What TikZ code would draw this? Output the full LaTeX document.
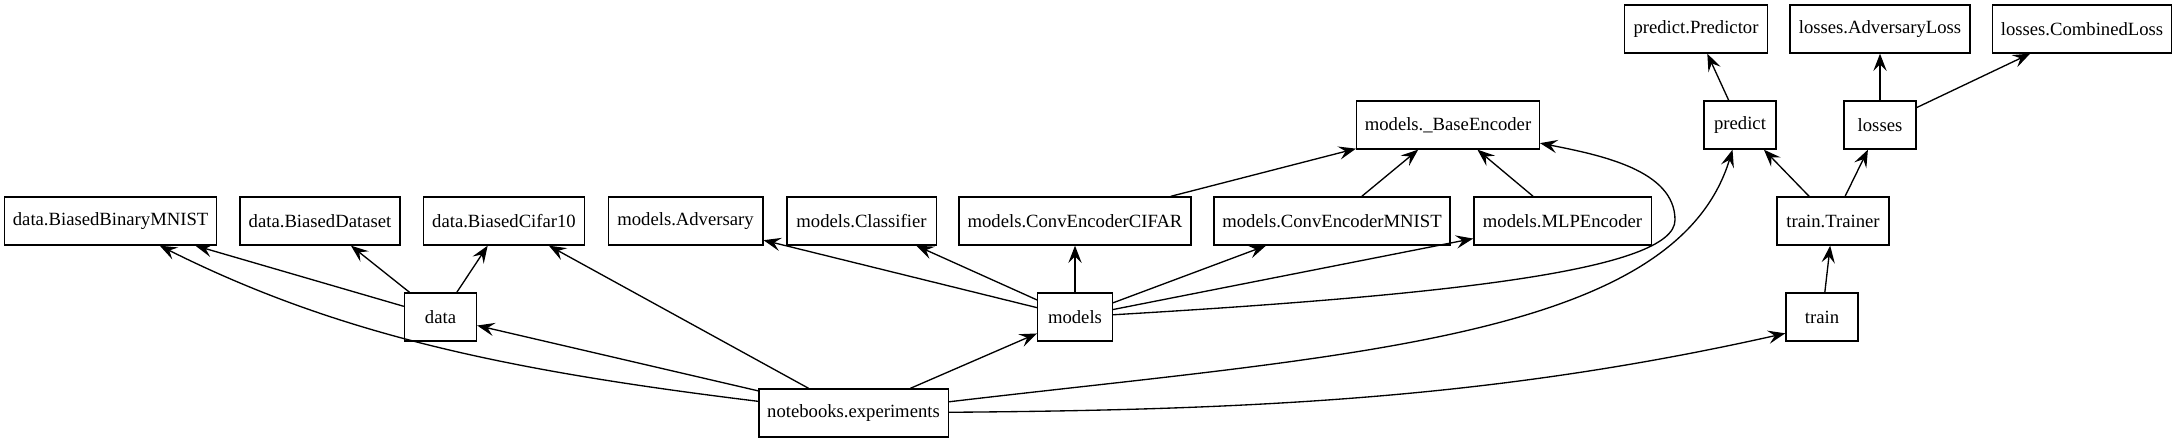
\documentclass[tikz,border=0pt]{standalone}
\usepackage{fontspec}
\setmainfont{Liberation Serif}
\usetikzlibrary{arrows.meta}
\begin{document}
\begin{tikzpicture}[x=0.75pt,y=-0.75pt,
  box/.style={draw, line width=1pt, minimum height=36pt, inner sep=0pt,
    font=\fontsize{14}{16}\selectfont},
  edge/.style={-{Stealth[length=13pt,width=10pt,inset=5pt]}, line width=1pt}]
\useasboundingbox (0,0) rectangle (2178,443);
% top row
\node[box, minimum width=107pt] (PP) at (1696,29) {predict.Predictor};
\node[box, minimum width=135pt] (AL) at (1880,29) {losses.AdversaryLoss};
\node[box, minimum width=134pt] (CL) at (2082,29) {losses.CombinedLoss};
% second row
\node[box, minimum width=137pt] (Base) at (1448,125) {models.\_BaseEncoder};
\node[box, minimum width=54pt] (predict) at (1740,125) {predict};
\node[box, minimum width=54pt] (losses) at (1880,125) {losses};
% third row
\node[box, minimum width=159pt] (BBM) at (110.6,221) {data.BiasedBinaryMNIST};
\node[box, minimum width=120pt] (BD) at (320,221) {data.BiasedDataset};
\node[box, minimum width=121pt] (BC) at (504,221) {data.BiasedCifar10};
\node[box, minimum width=116pt] (Adv) at (685.5,221) {models.Adversary};
\node[box, minimum width=112pt] (Cls) at (861.5,221) {models.Classifier};
\node[box, minimum width=174pt] (CIFAR) at (1075,221) {models.ConvEncoderCIFAR};
\node[box, minimum width=177pt] (MNIST) at (1332,221) {models.ConvEncoderMNIST};
\node[box, minimum width=133pt] (MLP) at (1562.5,221) {models.MLPEncoder};
\node[box, minimum width=84pt] (Trainer) at (1833,221) {train.Trainer};
% fourth row
\node[box, minimum width=54pt] (data) at (440.5,317) {data};
\node[box, minimum width=56pt] (models) at (1075,317) {models};
\node[box, minimum width=54pt] (train) at (1822,317) {train};
% bottom
\node[box, minimum width=142pt] (nb) at (853.5,413) {notebooks.experiments};
\coordinate (bend) at (1675,220);

% straight edges
\draw[edge] (data) -- (BBM);
\draw[edge] (data) -- (BD);
\draw[edge] (data) -- (BC);
\draw[edge] (nb) -- (data);
\draw[edge] (nb) -- (BC);
\draw[edge] (nb) -- (models);
\draw[edge] (models) -- (Adv);
\draw[edge] (models) -- (Cls);
\draw[edge] (models) -- (CIFAR);
\draw[edge] (models) -- (MNIST);
\draw[edge] (models) -- (MLP);
\draw[edge] (CIFAR) -- (Base);
\draw[edge] (MNIST) -- (Base);
\draw[edge] (MLP) -- (Base);
\draw[edge] (predict) -- (PP);
\draw[edge] (losses) -- (AL);
\draw[edge] (losses) -- (CL);
\draw[edge] (Trainer) -- (predict);
\draw[edge] (Trainer) -- (losses);
\draw[edge] (train) -- (Trainer);
% curved edges
\draw[edge] (nb) .. controls (511,371) and (340,336) .. (BBM);
\draw[edge] (nb) .. controls (1346,355) and (1675,339) .. (predict);
\draw[edge] (nb) .. controls (1249,410) and (1493,399) .. (train.204);
\draw[edge] (models) .. controls (1450,295) and (1675,270) .. (bend)
  .. controls (1675,170) and (1600,155) .. (Base);
\end{tikzpicture}
\end{document}
